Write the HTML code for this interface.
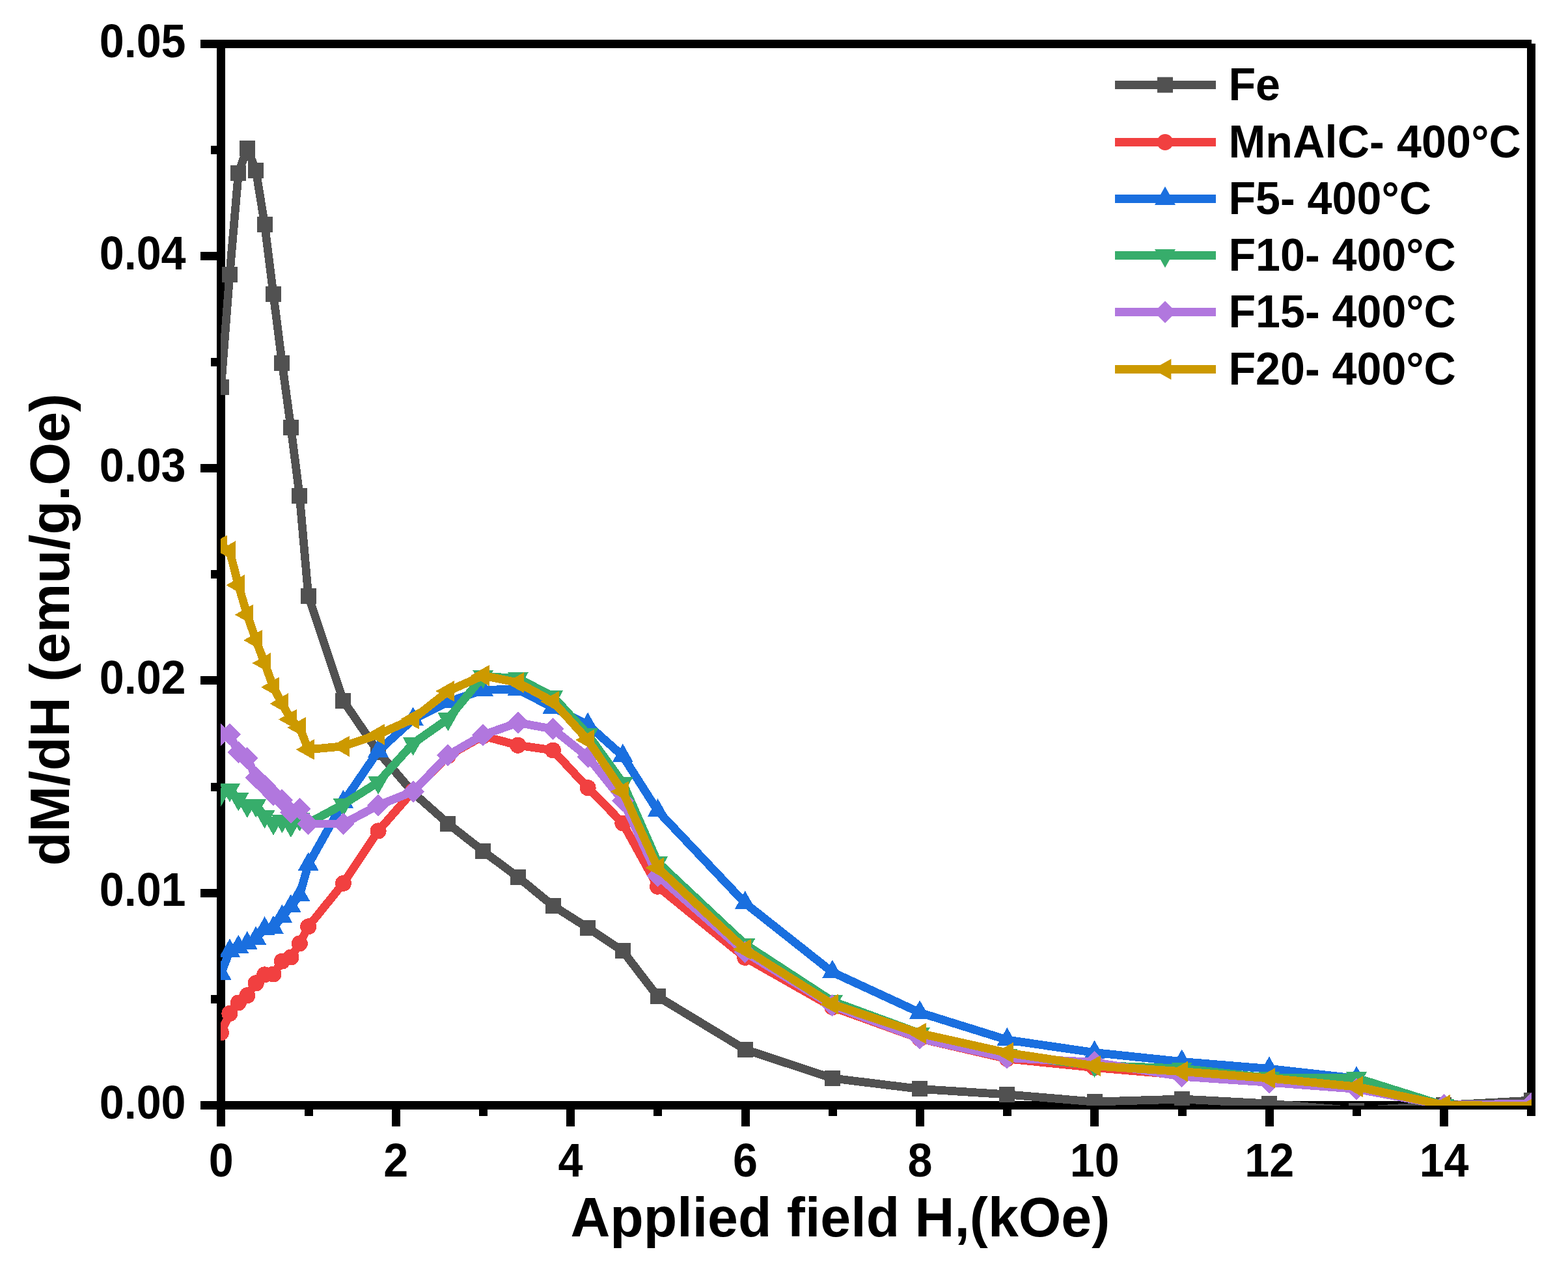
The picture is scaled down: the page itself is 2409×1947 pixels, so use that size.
<!DOCTYPE html>
<html lang="en"><head><meta charset="utf-8"><title>dM/dH vs Applied field</title>
<style>html,body{margin:0;padding:0;background:#fff;overflow:hidden}body{width:2409px;height:1947px}svg{display:block}text{font-family:"Liberation Sans","Arimo","Arial",sans-serif;font-weight:700;fill:#000}.t{font-size:68.3px}.l{font-size:68.2px}.T{font-size:84.3px}.Y{font-size:84.85px}</style></head><body>
<svg width="2409" height="1947" viewBox="0 0 2409 1947">
<rect width="2409" height="1947" fill="#fff"/>
<defs><clipPath id="c"><rect x="339" y="68" width="2014" height="1631"/></clipPath></defs>
<g fill="#000" shape-rendering="crispEdges">
<rect x="308" y="61" width="2045" height="13"/>
<rect x="308" y="1692" width="2051" height="13"/>
<rect x="333" y="61" width="13" height="1670"/>
<rect x="2346" y="67" width="13" height="1648"/>
<rect x="324" y="1529" width="10" height="13"/>
<rect x="308" y="1366" width="26" height="13"/>
<rect x="324" y="1203" width="10" height="13"/>
<rect x="308" y="1039" width="26" height="13"/>
<rect x="324" y="876" width="10" height="13"/>
<rect x="308" y="713" width="26" height="13"/>
<rect x="324" y="550" width="10" height="13"/>
<rect x="308" y="387" width="26" height="13"/>
<rect x="324" y="224" width="10" height="13"/>
<rect x="468" y="1704" width="13" height="11"/>
<rect x="602" y="1704" width="13" height="27"/>
<rect x="736" y="1704" width="13" height="11"/>
<rect x="870" y="1704" width="13" height="27"/>
<rect x="1004" y="1704" width="13" height="11"/>
<rect x="1139" y="1704" width="13" height="27"/>
<rect x="1273" y="1704" width="13" height="11"/>
<rect x="1407" y="1704" width="13" height="27"/>
<rect x="1541" y="1704" width="13" height="11"/>
<rect x="1675" y="1704" width="13" height="27"/>
<rect x="1810" y="1704" width="13" height="11"/>
<rect x="1944" y="1704" width="13" height="27"/>
<rect x="2078" y="1704" width="13" height="11"/>
<rect x="2212" y="1704" width="13" height="27"/>
</g>
<g class="t" text-anchor="end">
<text transform="translate(285.6 1718.5) scale(1 1.055)">0.00</text>
<text transform="translate(285.6 1392.3) scale(1 1.055)">0.01</text>
<text transform="translate(285.6 1066.1) scale(1 1.055)">0.02</text>
<text transform="translate(285.6 739.9) scale(1 1.055)">0.03</text>
<text transform="translate(285.6 413.7) scale(1 1.055)">0.04</text>
<text transform="translate(285.6 87.5) scale(1 1.055)">0.05</text>
</g>
<g class="t" text-anchor="middle">
<text transform="translate(339.8 1808.2) scale(1 1.055)">0</text>
<text transform="translate(608.2 1808.2) scale(1 1.055)">2</text>
<text transform="translate(876.6 1808.2) scale(1 1.055)">4</text>
<text transform="translate(1145 1808.2) scale(1 1.055)">6</text>
<text transform="translate(1413.4 1808.2) scale(1 1.055)">8</text>
<text transform="translate(1681.8 1808.2) scale(1 1.055)">10</text>
<text transform="translate(1950.2 1808.2) scale(1 1.055)">12</text>
<text transform="translate(2218.6 1808.2) scale(1 1.055)">14</text>
</g>
<text class="T" transform="translate(876.4 1900.2) scale(1 1.015)">Applied field H,(kOe)</text>
<text class="Y" transform="translate(105.5 1330.4) rotate(-90) scale(1 1.015)">dM/dH (emu/g.Oe)</text>
<g clip-path="url(#c)" shape-rendering="crispEdges">
<g fill="#515151" stroke="none">
<path d="M339.5 595.4L352.9 421.6L366.3 265.9L379.8 228L393.2 262.1L406.6 345L420 452.2L433.4 557.9L446.9 656.9L460.3 762.2L473.7 915.5L527.4 1076.7L581.1 1155.5L634.7 1218L688.4 1265.7L742.1 1307.8L795.8 1347.8L849.5 1391.8L903.1 1425.7L956.8 1461.4L1010.5 1531.4L1144.7 1612.7L1278.9 1657L1413.1 1673.4L1547.3 1681.9L1681.5 1693.1L1815.7 1689L1949.9 1696L2084.1 1707L2218.3 1698.4L2352.5 1691.1" fill="none" stroke="#515151" stroke-width="12.8" stroke-linejoin="round" stroke-linecap="butt"/>
<path d="M327.5 583.4h24v24h-24zM340.9 409.6h24v24h-24zM354.3 253.9h24v24h-24zM367.8 216h24v24h-24zM381.2 250.1h24v24h-24zM394.6 333h24v24h-24zM408 440.2h24v24h-24zM421.4 545.9h24v24h-24zM434.9 644.9h24v24h-24zM448.3 750.2h24v24h-24zM461.7 903.5h24v24h-24zM515.4 1064.7h24v24h-24zM569.1 1143.5h24v24h-24zM622.7 1206h24v24h-24zM676.4 1253.7h24v24h-24zM730.1 1295.8h24v24h-24zM783.8 1335.8h24v24h-24zM837.5 1379.8h24v24h-24zM891.1 1413.7h24v24h-24zM944.8 1449.4h24v24h-24zM998.5 1519.4h24v24h-24zM1132.7 1600.7h24v24h-24zM1266.9 1645h24v24h-24zM1401.1 1661.4h24v24h-24zM1535.3 1669.9h24v24h-24zM1669.5 1681.1h24v24h-24zM1803.7 1677h24v24h-24zM1937.9 1684h24v24h-24zM2072.1 1695h24v24h-24zM2206.3 1686.4h24v24h-24zM2340.5 1679.1h24v24h-24z"/>
</g>
<g fill="#F14040" stroke="none">
<path d="M339.5 1586.9L352.9 1557.5L366.3 1541L379.8 1529.8L393.2 1510.8L406.6 1497.9L420 1497L433.4 1477.1L446.9 1471L460.3 1450L473.7 1423.9L527.4 1357.4L581.1 1276.9L634.7 1215.6L688.4 1161.5L742.1 1131L795.8 1145.2L849.5 1153L903.1 1210.6L956.8 1265L1010.5 1362.3L1144.7 1471.4L1278.9 1547.6L1413.1 1596L1547.3 1627L1681.5 1640.6L1815.7 1652L1949.9 1662.5L2084.1 1672.5L2218.3 1698.5L2352.5 1698.5" fill="none" stroke="#F14040" stroke-width="12.8" stroke-linejoin="round" stroke-linecap="butt"/>
<path d="M327 1586.9a12.5 12.5 0 1 0 25 0a12.5 12.5 0 1 0 -25 0zM340.4 1557.5a12.5 12.5 0 1 0 25 0a12.5 12.5 0 1 0 -25 0zM353.8 1541a12.5 12.5 0 1 0 25 0a12.5 12.5 0 1 0 -25 0zM367.3 1529.8a12.5 12.5 0 1 0 25 0a12.5 12.5 0 1 0 -25 0zM380.7 1510.8a12.5 12.5 0 1 0 25 0a12.5 12.5 0 1 0 -25 0zM394.1 1497.9a12.5 12.5 0 1 0 25 0a12.5 12.5 0 1 0 -25 0zM407.5 1497a12.5 12.5 0 1 0 25 0a12.5 12.5 0 1 0 -25 0zM420.9 1477.1a12.5 12.5 0 1 0 25 0a12.5 12.5 0 1 0 -25 0zM434.4 1471a12.5 12.5 0 1 0 25 0a12.5 12.5 0 1 0 -25 0zM447.8 1450a12.5 12.5 0 1 0 25 0a12.5 12.5 0 1 0 -25 0zM461.2 1423.9a12.5 12.5 0 1 0 25 0a12.5 12.5 0 1 0 -25 0zM514.9 1357.4a12.5 12.5 0 1 0 25 0a12.5 12.5 0 1 0 -25 0zM568.6 1276.9a12.5 12.5 0 1 0 25 0a12.5 12.5 0 1 0 -25 0zM622.2 1215.6a12.5 12.5 0 1 0 25 0a12.5 12.5 0 1 0 -25 0zM675.9 1161.5a12.5 12.5 0 1 0 25 0a12.5 12.5 0 1 0 -25 0zM729.6 1131a12.5 12.5 0 1 0 25 0a12.5 12.5 0 1 0 -25 0zM783.3 1145.2a12.5 12.5 0 1 0 25 0a12.5 12.5 0 1 0 -25 0zM837 1153a12.5 12.5 0 1 0 25 0a12.5 12.5 0 1 0 -25 0zM890.6 1210.6a12.5 12.5 0 1 0 25 0a12.5 12.5 0 1 0 -25 0zM944.3 1265a12.5 12.5 0 1 0 25 0a12.5 12.5 0 1 0 -25 0zM998 1362.3a12.5 12.5 0 1 0 25 0a12.5 12.5 0 1 0 -25 0zM1132.2 1471.4a12.5 12.5 0 1 0 25 0a12.5 12.5 0 1 0 -25 0zM1266.4 1547.6a12.5 12.5 0 1 0 25 0a12.5 12.5 0 1 0 -25 0zM1400.6 1596a12.5 12.5 0 1 0 25 0a12.5 12.5 0 1 0 -25 0zM1534.8 1627a12.5 12.5 0 1 0 25 0a12.5 12.5 0 1 0 -25 0zM1669 1640.6a12.5 12.5 0 1 0 25 0a12.5 12.5 0 1 0 -25 0zM1803.2 1652a12.5 12.5 0 1 0 25 0a12.5 12.5 0 1 0 -25 0zM1937.4 1662.5a12.5 12.5 0 1 0 25 0a12.5 12.5 0 1 0 -25 0zM2071.6 1672.5a12.5 12.5 0 1 0 25 0a12.5 12.5 0 1 0 -25 0zM2205.8 1698.5a12.5 12.5 0 1 0 25 0a12.5 12.5 0 1 0 -25 0zM2340 1698.5a12.5 12.5 0 1 0 25 0a12.5 12.5 0 1 0 -25 0z"/>
</g>
<g fill="#1A6FDF" stroke="none">
<path d="M339.5 1496.4L352.9 1461.3L366.3 1455.4L379.8 1449.8L393.2 1442.3L406.6 1427.3L420 1425.8L433.4 1408.7L446.9 1392.9L460.3 1375.5L473.7 1328.5L527.4 1232.7L581.1 1154.2L634.7 1105.3L688.4 1078.8L742.1 1060.3L795.8 1059.3L849.5 1087.4L903.1 1113.7L956.8 1161.7L1010.5 1246L1144.7 1387.8L1278.9 1494L1413.1 1556.1L1547.3 1598L1681.5 1617.5L1815.7 1631.5L1949.9 1642.4L2084.1 1657.3L2218.3 1699.6L2352.5 1699" fill="none" stroke="#1A6FDF" stroke-width="12.8" stroke-linejoin="round" stroke-linecap="butt"/>
<path d="M339.5 1477.4L355.5 1505.8L323.5 1505.8zM352.9 1442.3L368.9 1470.7L336.9 1470.7zM366.3 1436.4L382.3 1464.8L350.3 1464.8zM379.8 1430.8L395.8 1459.2L363.8 1459.2zM393.2 1423.3L409.2 1451.7L377.2 1451.7zM406.6 1408.3L422.6 1436.7L390.6 1436.7zM420 1406.8L436 1435.2L404 1435.2zM433.4 1389.7L449.4 1418.1L417.4 1418.1zM446.9 1373.9L462.9 1402.3L430.9 1402.3zM460.3 1356.5L476.3 1384.9L444.3 1384.9zM473.7 1309.5L489.7 1337.9L457.7 1337.9zM527.4 1213.7L543.4 1242.1L511.4 1242.1zM581.1 1135.2L597.1 1163.6L565.1 1163.6zM634.7 1086.3L650.7 1114.7L618.7 1114.7zM688.4 1059.8L704.4 1088.2L672.4 1088.2zM742.1 1041.3L758.1 1069.7L726.1 1069.7zM795.8 1040.3L811.8 1068.7L779.8 1068.7zM849.5 1068.4L865.5 1096.8L833.5 1096.8zM903.1 1094.7L919.1 1123.1L887.1 1123.1zM956.8 1142.7L972.8 1171.1L940.8 1171.1zM1010.5 1227L1026.5 1255.4L994.5 1255.4zM1144.7 1368.8L1160.7 1397.2L1128.7 1397.2zM1278.9 1475L1294.9 1503.4L1262.9 1503.4zM1413.1 1537.1L1429.1 1565.5L1397.1 1565.5zM1547.3 1579L1563.3 1607.4L1531.3 1607.4zM1681.5 1598.5L1697.5 1626.9L1665.5 1626.9zM1815.7 1612.5L1831.7 1640.9L1799.7 1640.9zM1949.9 1623.4L1965.9 1651.8L1933.9 1651.8zM2084.1 1638.3L2100.1 1666.7L2068.1 1666.7zM2218.3 1680.6L2234.3 1709L2202.3 1709zM2352.5 1680L2368.5 1708.4L2336.5 1708.4z"/>
</g>
<g fill="#37AD6B" stroke="none">
<path d="M339.5 1220.2L352.9 1213.7L366.3 1227.6L379.8 1238L393.2 1237.6L406.6 1254.3L420 1264.8L433.4 1261.3L446.9 1268.2L460.3 1258.8L473.7 1264.8L527.4 1236L581.1 1202L634.7 1142.4L688.4 1104.7L742.1 1039.3L795.8 1042.4L849.5 1070.1L903.1 1128.7L956.8 1203L1010.5 1325L1144.7 1451L1278.9 1538.6L1413.1 1588L1547.3 1621.8L1681.5 1637.2L1815.7 1641.9L1949.9 1656.5L2084.1 1656.5L2218.3 1698.8L2352.5 1699" fill="none" stroke="#37AD6B" stroke-width="12.8" stroke-linejoin="round" stroke-linecap="butt"/>
<path d="M339.5 1239.2L355.5 1210.8L323.5 1210.8zM352.9 1232.7L368.9 1204.3L336.9 1204.3zM366.3 1246.6L382.3 1218.2L350.3 1218.2zM379.8 1257L395.8 1228.6L363.8 1228.6zM393.2 1256.6L409.2 1228.2L377.2 1228.2zM406.6 1273.3L422.6 1244.9L390.6 1244.9zM420 1283.8L436 1255.4L404 1255.4zM433.4 1280.3L449.4 1251.9L417.4 1251.9zM446.9 1287.2L462.9 1258.8L430.9 1258.8zM460.3 1277.8L476.3 1249.4L444.3 1249.4zM473.7 1283.8L489.7 1255.4L457.7 1255.4zM527.4 1255L543.4 1226.6L511.4 1226.6zM581.1 1221L597.1 1192.6L565.1 1192.6zM634.7 1161.4L650.7 1133L618.7 1133zM688.4 1123.7L704.4 1095.3L672.4 1095.3zM742.1 1058.3L758.1 1029.9L726.1 1029.9zM795.8 1061.4L811.8 1033L779.8 1033zM849.5 1089.1L865.5 1060.7L833.5 1060.7zM903.1 1147.7L919.1 1119.3L887.1 1119.3zM956.8 1222L972.8 1193.6L940.8 1193.6zM1010.5 1344L1026.5 1315.6L994.5 1315.6zM1144.7 1470L1160.7 1441.6L1128.7 1441.6zM1278.9 1557.6L1294.9 1529.2L1262.9 1529.2zM1413.1 1607L1429.1 1578.6L1397.1 1578.6zM1547.3 1640.8L1563.3 1612.4L1531.3 1612.4zM1681.5 1656.2L1697.5 1627.8L1665.5 1627.8zM1815.7 1660.9L1831.7 1632.5L1799.7 1632.5zM1949.9 1675.5L1965.9 1647.1L1933.9 1647.1zM2084.1 1675.5L2100.1 1647.1L2068.1 1647.1zM2218.3 1717.8L2234.3 1689.4L2202.3 1689.4zM2352.5 1718L2368.5 1689.6L2336.5 1689.6z"/>
</g>
<g fill="#B177DE" stroke="none">
<path d="M339.5 1129.4L352.9 1128.6L366.3 1156.1L379.8 1164.9L393.2 1195L406.6 1207.5L420 1221.5L433.4 1229.6L446.9 1248.5L460.3 1243L473.7 1266L527.4 1266L581.1 1237.5L634.7 1216.4L688.4 1160.5L742.1 1129.5L795.8 1110.5L849.5 1120.3L903.1 1163L956.8 1230.4L1010.5 1345.7L1144.7 1463.3L1278.9 1545.1L1413.1 1595.8L1547.3 1625.5L1681.5 1632.4L1815.7 1654.3L1949.9 1663.3L2084.1 1673.4L2218.3 1698.3L2352.5 1695.9" fill="none" stroke="#B177DE" stroke-width="12.8" stroke-linejoin="round" stroke-linecap="butt"/>
<path d="M339.5 1112.4L356.5 1129.4L339.5 1146.4L322.5 1129.4zM352.9 1111.6L369.9 1128.6L352.9 1145.6L335.9 1128.6zM366.3 1139.1L383.3 1156.1L366.3 1173.1L349.3 1156.1zM379.8 1147.9L396.8 1164.9L379.8 1181.9L362.8 1164.9zM393.2 1178L410.2 1195L393.2 1212L376.2 1195zM406.6 1190.5L423.6 1207.5L406.6 1224.5L389.6 1207.5zM420 1204.5L437 1221.5L420 1238.5L403 1221.5zM433.4 1212.6L450.4 1229.6L433.4 1246.6L416.4 1229.6zM446.9 1231.5L463.9 1248.5L446.9 1265.5L429.9 1248.5zM460.3 1226L477.3 1243L460.3 1260L443.3 1243zM473.7 1249L490.7 1266L473.7 1283L456.7 1266zM527.4 1249L544.4 1266L527.4 1283L510.4 1266zM581.1 1220.5L598.1 1237.5L581.1 1254.5L564.1 1237.5zM634.7 1199.4L651.7 1216.4L634.7 1233.4L617.7 1216.4zM688.4 1143.5L705.4 1160.5L688.4 1177.5L671.4 1160.5zM742.1 1112.5L759.1 1129.5L742.1 1146.5L725.1 1129.5zM795.8 1093.5L812.8 1110.5L795.8 1127.5L778.8 1110.5zM849.5 1103.3L866.5 1120.3L849.5 1137.3L832.5 1120.3zM903.1 1146L920.1 1163L903.1 1180L886.1 1163zM956.8 1213.4L973.8 1230.4L956.8 1247.4L939.8 1230.4zM1010.5 1328.7L1027.5 1345.7L1010.5 1362.7L993.5 1345.7zM1144.7 1446.3L1161.7 1463.3L1144.7 1480.3L1127.7 1463.3zM1278.9 1528.1L1295.9 1545.1L1278.9 1562.1L1261.9 1545.1zM1413.1 1578.8L1430.1 1595.8L1413.1 1612.8L1396.1 1595.8zM1547.3 1608.5L1564.3 1625.5L1547.3 1642.5L1530.3 1625.5zM1681.5 1615.4L1698.5 1632.4L1681.5 1649.4L1664.5 1632.4zM1815.7 1637.3L1832.7 1654.3L1815.7 1671.3L1798.7 1654.3zM1949.9 1646.3L1966.9 1663.3L1949.9 1680.3L1932.9 1663.3zM2084.1 1656.4L2101.1 1673.4L2084.1 1690.4L2067.1 1673.4zM2218.3 1681.3L2235.3 1698.3L2218.3 1715.3L2201.3 1698.3zM2352.5 1678.9L2369.5 1695.9L2352.5 1712.9L2335.5 1695.9z"/>
</g>
<g fill="#CC9900" stroke="none">
<path d="M339.5 838.3L352.9 847L366.3 899.2L379.8 944.7L393.2 983.9L406.6 1019L420 1056L433.4 1081.3L446.9 1105.5L460.3 1118L473.7 1151.8L527.4 1146.8L581.1 1128.7L634.7 1104.8L688.4 1062.1L742.1 1038.1L795.8 1049.1L849.5 1078L903.1 1137.1L956.8 1216.3L1010.5 1333.6L1144.7 1458.8L1278.9 1543.2L1413.1 1588L1547.3 1617.8L1681.5 1637.9L1815.7 1646.6L1949.9 1656.9L2084.1 1669.9L2218.3 1698.2L2352.5 1699.8" fill="none" stroke="#CC9900" stroke-width="12.8" stroke-linejoin="round" stroke-linecap="butt"/>
<path d="M320.5 838.3L348.9 822.3L348.9 854.3zM333.9 847L362.3 831L362.3 863zM347.3 899.2L375.7 883.2L375.7 915.2zM360.8 944.7L389.2 928.7L389.2 960.7zM374.2 983.9L402.6 967.9L402.6 999.9zM387.6 1019L416 1003L416 1035zM401 1056L429.4 1040L429.4 1072zM414.4 1081.3L442.8 1065.3L442.8 1097.3zM427.9 1105.5L456.3 1089.5L456.3 1121.5zM441.3 1118L469.7 1102L469.7 1134zM454.7 1151.8L483.1 1135.8L483.1 1167.8zM508.4 1146.8L536.8 1130.8L536.8 1162.8zM562.1 1128.7L590.5 1112.7L590.5 1144.7zM615.7 1104.8L644.1 1088.8L644.1 1120.8zM669.4 1062.1L697.8 1046.1L697.8 1078.1zM723.1 1038.1L751.5 1022.1L751.5 1054.1zM776.8 1049.1L805.2 1033.1L805.2 1065.1zM830.5 1078L858.9 1062L858.9 1094zM884.1 1137.1L912.5 1121.1L912.5 1153.1zM937.8 1216.3L966.2 1200.3L966.2 1232.3zM991.5 1333.6L1019.9 1317.6L1019.9 1349.6zM1125.7 1458.8L1154.1 1442.8L1154.1 1474.8zM1259.9 1543.2L1288.3 1527.2L1288.3 1559.2zM1394.1 1588L1422.5 1572L1422.5 1604zM1528.3 1617.8L1556.7 1601.8L1556.7 1633.8zM1662.5 1637.9L1690.9 1621.9L1690.9 1653.9zM1796.7 1646.6L1825.1 1630.6L1825.1 1662.6zM1930.9 1656.9L1959.3 1640.9L1959.3 1672.9zM2065.1 1669.9L2093.5 1653.9L2093.5 1685.9zM2199.3 1698.2L2227.7 1682.2L2227.7 1714.2zM2333.5 1699.8L2361.9 1683.8L2361.9 1715.8z"/>
</g>
</g>
<g class="l">
<g fill="#515151"><rect x="1713" y="124" width="155" height="13" shape-rendering="crispEdges"/><path d="M1778 118.5h24v24h-24z"/></g>
<text transform="translate(1887.4 154.2) scale(1 1.04)">Fe</text>
<g fill="#F14040"><rect x="1713" y="212" width="155" height="13" shape-rendering="crispEdges"/><path d="M1777.5 218.5a12.5 12.5 0 1 0 25 0a12.5 12.5 0 1 0 -25 0z"/></g>
<text letter-spacing="0.15" transform="translate(1887.4 242.2) scale(1 1.04)">MnAlC- 400°C</text>
<g fill="#1A6FDF"><rect x="1713" y="299" width="155" height="13" shape-rendering="crispEdges"/><path d="M1790 286.5L1806 314.9L1774 314.9z"/></g>
<text transform="translate(1887.4 329.2) scale(1 1.04)">F5- 400°C</text>
<g fill="#37AD6B"><rect x="1713" y="386" width="155" height="13" shape-rendering="crispEdges"/><path d="M1790 411.5L1806 383.1L1774 383.1z"/></g>
<text transform="translate(1887.4 416.2) scale(1 1.04)">F10- 400°C</text>
<g fill="#B177DE"><rect x="1713" y="473" width="155" height="13" shape-rendering="crispEdges"/><path d="M1790 462.5L1807 479.5L1790 496.5L1773 479.5z"/></g>
<text transform="translate(1887.4 503.2) scale(1 1.04)">F15- 400°C</text>
<g fill="#CC9900"><rect x="1713" y="561" width="155" height="13" shape-rendering="crispEdges"/><path d="M1771 567.5L1799.4 551.5L1799.4 583.5z"/></g>
<text transform="translate(1887.4 591.2) scale(1 1.04)">F20- 400°C</text>
</g>
</svg></body></html>
